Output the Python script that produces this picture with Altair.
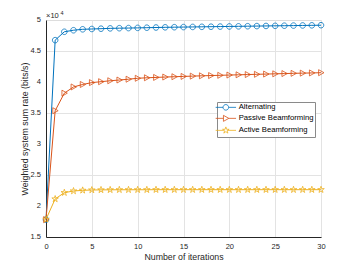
import altair as alt
import pandas as pd

# rate values in units of 10^4 bits/s, as read on the axis
iterations = list(range(31))
series_names = ["Alternating", "Passive Beamforming", "Active Beamforming"]
alternating = [1.780, 4.675, 4.810, 4.835, 4.850, 4.855, 4.860, 4.865, 4.868, 4.870,
               4.873, 4.876, 4.879, 4.882, 4.884, 4.886, 4.888, 4.890, 4.892, 4.894,
               4.896, 4.898, 4.900, 4.902, 4.904, 4.906, 4.908, 4.910, 4.912, 4.914, 4.916]
passive = [1.780, 3.537, 3.820, 3.920, 3.960, 3.990, 4.005, 4.020, 4.032, 4.045,
           4.060, 4.068, 4.074, 4.080, 4.085, 4.090, 4.095, 4.100, 4.104, 4.108,
           4.112, 4.116, 4.120, 4.124, 4.128, 4.132, 4.136, 4.140, 4.143, 4.146, 4.150]
active = [1.785, 2.113, 2.215, 2.242, 2.253, 2.258, 2.260, 2.261, 2.262, 2.262,
          2.262, 2.262, 2.263, 2.263, 2.263, 2.263, 2.263, 2.263, 2.263, 2.263,
          2.263, 2.263, 2.263, 2.263, 2.263, 2.263, 2.263, 2.263, 2.263, 2.263, 2.263]
colors = ["#0072BD", "#D95319", "#EDB120"]
y_ticks = [1.5, 2, 2.5, 3, 3.5, 4, 4.5, 5]
y_tick_labels = ["1.5", "2", "2.5", "3", "3.5", "4", "4.5", "5"]
x_ticks = [0, 5, 10, 15, 20, 25, 30]

marker_paths = [
    "M-0.93,0A0.93,0.93,0,1,1,0.93,0A0.93,0.93,0,1,1,-0.93,0Z",
    "M-0.8,-1L1,0L-0.8,1Z",
    "M0,-1.15L0.258,-0.355L1.094,-0.355L0.418,0.136L0.676,0.93L0,0.44L-0.676,0.93L-0.418,0.136L-1.094,-0.355L-0.258,-0.355Z",
]
legend_paths = [
    "M-3.4,0L-0.93,0M0.93,0L3.4,0" + marker_paths[0],
    "M-3.4,0L-0.8,0M1,0L3.4,0" + marker_paths[1],
    "M-3.4,0L-0.7,0M0.7,0L3.4,0" + marker_paths[2],
]

rows = []
for name, vals in zip(series_names, [alternating, passive, active]):
    for it, v in zip(iterations, vals):
        rows.append({"x": it, "y": v, "series": name})
df = pd.DataFrame(rows)
ytick_df = pd.DataFrame({"v": y_ticks, "lab": y_tick_labels})

FONT = "Liberation Sans"
AX = "#262626"

color_scale = alt.Scale(domain=series_names, range=colors)
xenc = alt.X("x:Q", scale=alt.Scale(domain=[0, 30], nice=False),
             axis=alt.Axis(values=x_ticks, title="Number of iterations", grid=True,
                           gridColor="#e3e3e3", domainColor=AX, ticks=False,
                           labelColor=AX, labelFont=FONT, labelFontSize=7.5,
                           labelPadding=5, titleFont=FONT, titleFontSize=8.8,
                           titleFontWeight="normal", titleColor=AX, titlePadding=3,
                           labelFlush=False, labelOverlap=False))
yenc = alt.Y("y:Q", scale=alt.Scale(domain=[1.5, 5], nice=False, zero=False),
             axis=alt.Axis(values=y_ticks, title="Weighted system sum rate (bits/s)",
                           labels=False, grid=True,
                           gridColor="#e3e3e3", domainColor=AX, ticks=False,
                           titleFont=FONT, titleFontSize=8.8,
                           titleFontWeight="normal", titleColor=AX, titlePadding=17))

base = alt.Chart(df)
lines = base.mark_line(strokeWidth=1).encode(
    x=xenc, y=yenc,
    color=alt.Color("series:N", scale=color_scale, legend=None),
    detail="series:N",
)

point_layers = []
for name, path in zip(series_names, marker_paths):
    point_layers.append(
        base.transform_filter(alt.datum.series == name)
        .mark_point(shape=path, size=36, strokeWidth=0.8, filled=False, opacity=1)
        .encode(x="x:Q", y="y:Q",
                color=alt.Color("series:N", scale=color_scale, legend=None))
    )

ylabels = alt.Chart(ytick_df).mark_text(font=FONT, fontSize=7.5, color=AX, align="right",
                                        baseline="middle", dx=-5).encode(
    x=alt.value(0), y=alt.Y("v:Q"), text="lab:N")

leg = alt.Legend(title=None, orient="none", legendX=171, legendY=82,
                 labelFont=FONT, labelFontSize=7.7, labelColor="#000000",
                 symbolSize=36, symbolStrokeWidth=0.8, labelOffset=9,
                 padding=1.5, rowPadding=1, strokeColor="#8a8a8a", fillColor="#ffffff",
                 cornerRadius=0, symbolOffset=3.5)
legend_layer = base.transform_filter("datum.x < 0").mark_point(
    size=36, strokeWidth=0.8, filled=False, opacity=1).encode(
    x="x:Q", y="y:Q",
    color=alt.Color("series:N", scale=color_scale, legend=leg),
    shape=alt.Shape("series:N", scale=alt.Scale(domain=series_names, range=legend_paths), legend=leg),
)

exp_df = pd.DataFrame({"t": ["×10"], "e": ["4"]})
exp_base = alt.Chart(exp_df).mark_text(font=FONT, fontSize=7.5, color=AX, align="left",
                                       baseline="alphabetic").encode(
    x=alt.value(0), y=alt.value(-2.5), text="t:N")
exp_sup = alt.Chart(exp_df).mark_text(font=FONT, fontSize=5.5, color=AX, align="left",
                                      baseline="alphabetic").encode(
    x=alt.value(14.5), y=alt.value(-5.5), text="e:N")

chart = alt.layer(lines, *point_layers, legend_layer, ylabels, exp_base, exp_sup).resolve_scale(
    color="independent", shape="independent"
).resolve_legend(color="independent", shape="independent").properties(
    width=275, height=217,
    autosize=alt.AutoSizeParams(type="none"),
    padding={"left": 38, "top": 12, "right": 20, "bottom": 26},
).configure_view(stroke=AX, strokeWidth=1).configure(background="white")

chart.save("out.html", embed_options={"renderer": "svg", "actions": False})
